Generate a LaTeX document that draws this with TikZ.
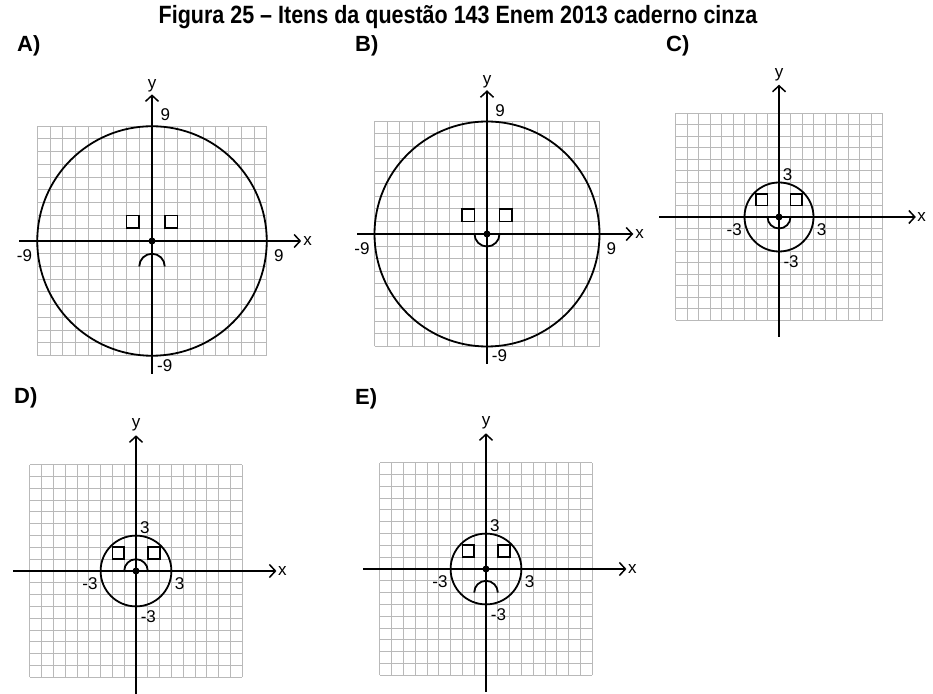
\documentclass[tikz,border=0pt]{standalone}
\usepackage{fontspec}
\setmainfont{Liberation Sans}
\newfontfamily\titlefont{Liberation Sans}[FakeStretch=0.86]
\usetikzlibrary{arrows.meta}

\begin{document}
\begin{tikzpicture}[x=1pt,y=1pt,
  gridline/.style={gray!55,line width=1pt},
  axis/.style={line width=1.3pt,-{Straight Barb[length=6pt,width=13pt,line width=1.5pt]}},
  face/.style={line width=1.8pt},
  ticklabel/.style={font=\fontsize{17}{17}\selectfont,inner sep=0pt},
  letter/.style={font=\fontsize{22}{22}\selectfont\bfseries,anchor=west,inner sep=0pt}]
\useasboundingbox (0,0) rectangle (933,693);
\node[font=\titlefont\fontsize{25}{25}\selectfont\bfseries,inner sep=0pt] (title) at (458,676) {Figura 25 – Itens da questão 143 Enem 2013 caderno cinza};
\node[letter] (la) at (17,647) {A)};
\node[letter] (lb) at (355,647) {B)};
\node[letter] (lc) at (666,647) {C)};
\node[letter] (ld) at (14,295) {D)};
\node[letter] (le) at (355,294) {E)};
% A: radius 9, frown below
\begin{scope}[shift={(152,452)},x=12.75pt,y=12.75pt]
\foreach \i in {-9,...,9} {\draw[gridline] (\i,-9) -- (\i,9); \draw[gridline] (-9,\i) -- (9,\i);}
\draw[axis] (-10.4,0) -- (11.7,0);
\draw[axis] (0,-10.4) -- (0,11.5);
\node[ticklabel] (ax) at (12.2,0) {x};
\node[ticklabel] (ay) at (0,12.2) {y};
\node[ticklabel] (atop) at (1.05,9.9) {9};
\node[ticklabel] (aleft) at (-10,-1.15) {-9};
\node[ticklabel] (aright) at (9.95,-1.15) {9};
\node[ticklabel] (abot) at (1,-9.75) {-9};
\draw[face] (0,0) circle[radius=9];
\draw[face] (-2,1) rectangle (-1,2);
\draw[face] (1,1) rectangle (2,2);
\fill (0,0) circle[radius=3.5pt];
\draw[face] (-1,-2) arc[start angle=180,end angle=0,radius=1];
\end{scope}
% B: radius 9, smile
\begin{scope}[shift={(487,459)},x=12.5pt,y=12.5pt]
\foreach \i in {-9,...,9} {\draw[gridline] (\i,-9) -- (\i,9); \draw[gridline] (-9,\i) -- (9,\i);}
\draw[axis] (-10.4,0) -- (11.7,0);
\draw[axis] (0,-10.4) -- (0,11.5);
\node[ticklabel] (bx) at (12.2,0) {x};
\node[ticklabel] (by) at (0,12.2) {y};
\node[ticklabel] (btop) at (1.05,9.9) {9};
\node[ticklabel] (bleft) at (-10,-1.15) {-9};
\node[ticklabel] (bright) at (9.95,-1.15) {9};
\node[ticklabel] (bbot) at (1,-9.75) {-9};
\draw[face] (0,0) circle[radius=9];
\draw[face] (-2,1) rectangle (-1,2);
\draw[face] (1,1) rectangle (2,2);
\fill (0,0) circle[radius=3.5pt];
\draw[face] (-1,0) arc[start angle=180,end angle=360,radius=1];
\end{scope}
% C: radius 3, smile
\begin{scope}[shift={(779,476)},x=11.5pt,y=11.5pt]
\foreach \i in {-9,...,9} {\draw[gridline] (\i,-9) -- (\i,9); \draw[gridline] (-9,\i) -- (9,\i);}
\draw[axis] (-10.4,0) -- (11.9,0);
\draw[axis] (0,-10.4) -- (0,11.5);
\node[ticklabel] (cx) at (12.4,0) {x};
\node[ticklabel] (cy) at (0,12.4) {y};
\node[ticklabel] (ctop) at (0.75,3.7) {3};
\node[ticklabel] (cleft) at (-3.9,-1.1) {-3};
\node[ticklabel] (cright) at (3.7,-1.1) {3};
\node[ticklabel] (cbot) at (1.05,-3.9) {-3};
\draw[face] (0,0) circle[radius=3];
\draw[face] (-2,1) rectangle (-1,2);
\draw[face] (1,1) rectangle (2,2);
\fill (0,0) circle[radius=3.5pt];
\draw[face] (-1,0) arc[start angle=180,end angle=360,radius=1];
\end{scope}
% D: radius 3, frown on the centre
\begin{scope}[shift={(136,122)},x=11.8pt,y=11.8pt]
\foreach \i in {-9,...,9} {\draw[gridline] (\i,-9) -- (\i,9); \draw[gridline] (-9,\i) -- (9,\i);}
\draw[axis] (-10.4,0) -- (11.9,0);
\draw[axis] (0,-10.4) -- (0,11.5);
\node[ticklabel] (dx) at (12.4,0) {x};
\node[ticklabel] (dy) at (0,12.4) {y};
\node[ticklabel] (dtop) at (0.75,3.7) {3};
\node[ticklabel] (dleft) at (-3.9,-1.1) {-3};
\node[ticklabel] (dright) at (3.7,-1.1) {3};
\node[ticklabel] (dbot) at (1.05,-3.9) {-3};
\draw[face] (0,0) circle[radius=3];
\draw[face] (-2,1) rectangle (-1,2);
\draw[face] (1,1) rectangle (2,2);
\fill (0,0) circle[radius=3.5pt];
\draw[face] (-1,0) arc[start angle=180,end angle=0,radius=1];
\end{scope}
% E: radius 3, frown below
\begin{scope}[shift={(486,124)},x=11.8pt,y=11.8pt]
\foreach \i in {-9,...,9} {\draw[gridline] (\i,-9) -- (\i,9); \draw[gridline] (-9,\i) -- (9,\i);}
\draw[axis] (-10.4,0) -- (11.9,0);
\draw[axis] (0,-10.4) -- (0,11.5);
\node[ticklabel] (ex) at (12.4,0) {x};
\node[ticklabel] (ey) at (0,12.4) {y};
\node[ticklabel] (etop) at (0.75,3.7) {3};
\node[ticklabel] (eleft) at (-3.9,-1.1) {-3};
\node[ticklabel] (eright) at (3.7,-1.1) {3};
\node[ticklabel] (ebot) at (1.05,-3.9) {-3};
\draw[face] (0,0) circle[radius=3];
\draw[face] (-2,1) rectangle (-1,2);
\draw[face] (1,1) rectangle (2,2);
\fill (0,0) circle[radius=3.5pt];
\draw[face] (-1,-2) arc[start angle=180,end angle=0,radius=1];
\end{scope}
\end{tikzpicture}
\end{document}
